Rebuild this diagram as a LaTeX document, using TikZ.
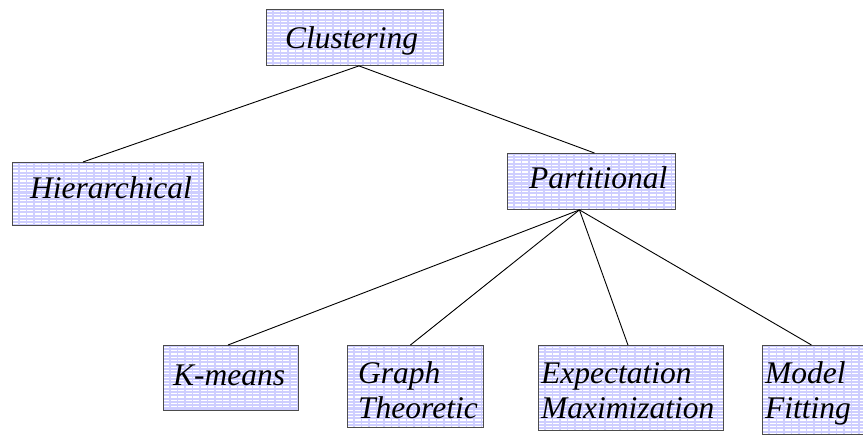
\documentclass[tikz,border=0pt]{standalone}
\usepackage{fontspec}
\setmainfont{Liberation Serif}[ItalicFont={Liberation Serif Italic}]
\usetikzlibrary{calc}
\definecolor{boxfill}{RGB}{206,206,255}
\tikzset{
  % lavender fill crossed by thin white dashed rules
  stripes/.style={path picture={
    \foreach \k in {0,...,40}{
      \draw[white, line width=1.2pt, dash pattern=on 6pt off 1.5pt]
        ([yshift=-\k*3.3pt-2pt]path picture bounding box.north west) --
        ([yshift=-\k*3.3pt-2pt]path picture bounding box.north east);
    }}},
  box/.style={draw=black!70, line width=0.9pt, fill=boxfill, stripes,
    anchor=north west, inner sep=0pt},
  lbl/.style={anchor=base west, inner sep=0pt,
    font=\fontsize{31.5}{36}\selectfont\itshape},
  conn/.style={draw=black, line width=0.9pt}
}
\begin{document}
\begin{tikzpicture}[x=1pt, y=-1pt]
  \useasboundingbox (0,0) rectangle (863,437);
  \clip (0,0) rectangle (863,437);

  % boxes
  \node[box, minimum width=177pt, minimum height=56pt] (clus) at (266,9) {};
  \node[box, minimum width=191pt, minimum height=63pt] (hier) at (12,162) {};
  \node[box, minimum width=168pt, minimum height=56pt] (part) at (507,153) {};
  \node[box, minimum width=135pt, minimum height=65pt] (kmeans) at (163,345) {};
  \node[box, minimum width=136pt, minimum height=82pt] (graph) at (347,345) {};
  \node[box, minimum width=185pt, minimum height=85pt] (em) at (538,345) {};
  \node[box, minimum width=118pt, minimum height=89pt] (model) at (762,345) {};

  % labels
  \node[lbl] (clus-t) at (285,48) {Clustering};
  \node[lbl] (hier-t) at (30,198) {Hierarchical};
  \node[lbl] (part-t) at (529,188) {Partitional};
  \node[lbl] (kmeans-t) at (173,385) {K-means};
  \node[lbl] (graph-t1) at (358,383) {Graph};
  \node[lbl] (graph-t2) at (358,418) {Theoretic};
  \node[lbl] (em-t1) at (541,383) {Expectation};
  \node[lbl] (em-t2) at (541,418) {Maximization};
  \node[lbl] (model-t1) at (765,383) {Model};
  \node[lbl] (model-t2) at (765,418) {Fitting};

  % tree connectors
  \draw[conn] ($(clus.south)+(4,0)$) -- ($(hier.north)+(-25,0)$);
  \draw[conn] ($(clus.south)+(4,0)$) -- ($(part.north)+(3,0)$);
  \draw[conn] ($(part.south)+(-12,0)$) -- ($(kmeans.north)+(-3,0)$);
  \draw[conn] ($(part.south)+(-12,0)$) -- ($(graph.north)+(-5,0)$);
  \draw[conn] ($(part.south)+(-12,0)$) -- ($(em.north)+(-3,0)$);
  \draw[conn] ($(part.south)+(-12,0)$) -- ($(model.north)+(-10,0)$);
\end{tikzpicture}
\end{document}
